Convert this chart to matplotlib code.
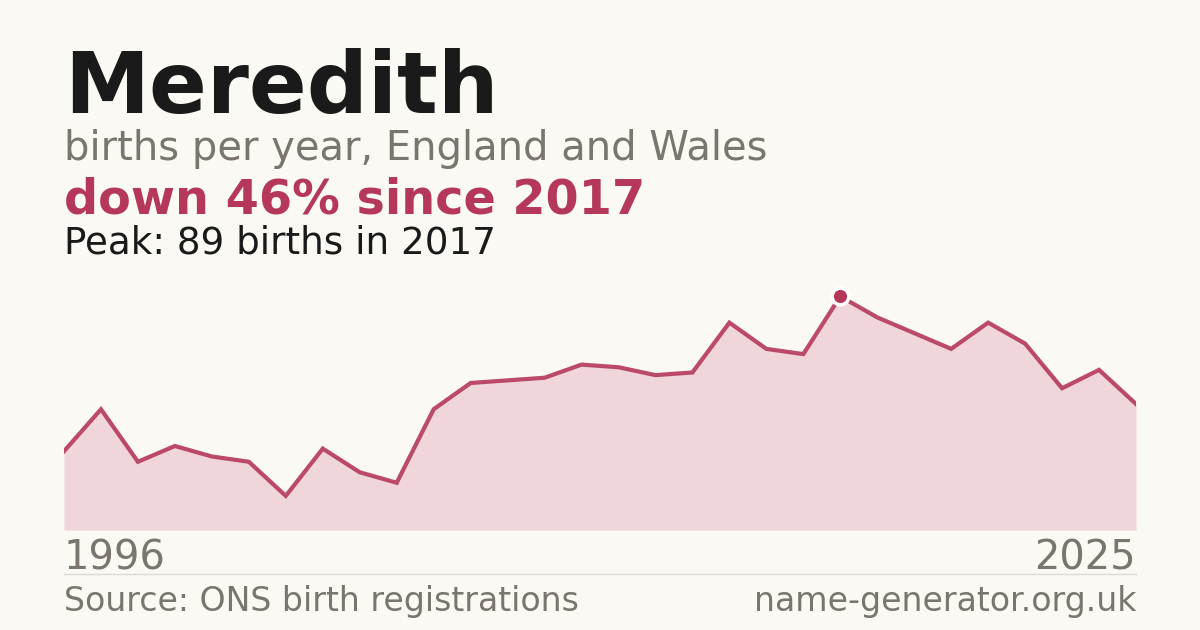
import numpy as np
import matplotlib
matplotlib.use("Agg")
from matplotlib import pyplot as plt


years = list(range(1996, 2026))
births = [30, 46, 26, 32, 28, 26, 13, 31, 22, 18,
          46, 56, 57, 58, 63, 62, 59, 60, 79, 69,
          67, 89, 81, 75, 69, 79, 71, 54, 61, 48]

name = "Meredith"
subtitle = "births per year, England and Wales"
change_text = "down 46% since 2017"
peak_text = "Peak: 89 births in 2017"
source_text = "Source: ONS birth registrations"
site_text = "name-generator.org.uk"

bg = "#faf9f4"
red = "#b5385a"
fill = "#f0d5db"
grey = "#7a756d"
dark = "#1a1a1a"

W, H = 1200, 630
fig = plt.figure(figsize=(12, 6.3), dpi=100, facecolor=bg)


def fx(px):
    return px / W


def fy(py):
    return 1 - py / H


# chart area: x 64..1136 px, baseline at 530 px
ax = fig.add_axes([fx(64), fy(530), fx(1072), (530 - 280) / H])
ax.set_facecolor(bg)
ax.fill_between(years, births, 0, color=fill, lw=0)
ax.plot(years, births, color=red, lw=3, alpha=0.9, solid_joinstyle="miter")
peak_i = int(np.argmax(births))
ax.plot(years[peak_i], births[peak_i], "o", ms=12, color=red,
        markeredgecolor="white", markeredgewidth=2.5, zorder=5)
ax.axhline(0, color="#dddad3", lw=1)
ax.set_xlim(years[0], years[-1])
ax.set_ylim(0, max(births) * 1.07)
ax.axis("off")

# header
fig.text(fx(64), fy(113), name, fontsize=61.5, fontweight="bold", color=dark, va="baseline")
fig.text(fx(64), fy(160), subtitle, fontsize=28.8, color=grey, va="baseline")
fig.text(fx(64), fy(214), change_text, fontsize=34.4, fontweight="bold", color=red, va="baseline")
fig.text(fx(64), fy(254), peak_text, fontsize=26.8, color=dark, va="baseline")

# footer
fig.text(fx(64), fy(570), str(years[0]), fontsize=28.8, color=grey, va="baseline")
fig.text(fx(1136), fy(570), str(years[-1]), fontsize=28.8, color=grey, va="baseline", ha="right")
fig.add_artist(plt.Line2D([fx(64), fx(1136)], [fy(574), fy(574)], color="#dddad3", lw=1))
fig.text(fx(64), fy(611), source_text, fontsize=23.9, color=grey, va="baseline")
fig.text(fx(1136), fy(611), site_text, fontsize=23.9, color=grey, va="baseline", ha="right")

fig.savefig("out.png", dpi=100, facecolor=bg)
